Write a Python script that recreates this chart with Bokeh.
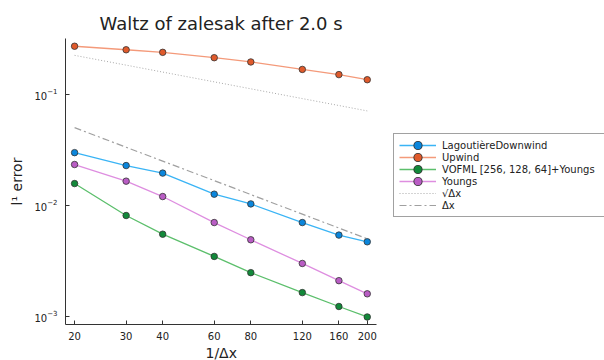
from bokeh.plotting import figure
from bokeh.models import FixedTicker, Legend, LegendItem, Range1d, PrintfTickFormatter, Title
from bokeh.embed import file_html
from bokeh.resources import INLINE

# ---- data ----
N = [20, 30, 40, 60, 80, 120, 160, 200]
lagoutiere = [0.0298, 0.0228, 0.0195, 0.0126, 0.0103, 0.0070, 0.0054, 0.0047]
upwind = [0.270, 0.251, 0.238, 0.213, 0.195, 0.167, 0.150, 0.135]
vofml = [0.0157, 0.0081, 0.0055, 0.00347, 0.00248, 0.00164, 0.00123, 0.00099]
youngs = [0.0233, 0.0165, 0.0120, 0.0070, 0.0049, 0.0030, 0.0021, 0.0016]
sqrt_dx = [0.2236, 0.1826, 0.1581, 0.1291, 0.1118, 0.0913, 0.0791, 0.0707]
dx = [0.05, 0.0333, 0.025, 0.0167, 0.0125, 0.00833, 0.00625, 0.005]

series_names = ["LagoutièreDownwind", "Upwind", "VOFML [256, 128, 64]+Youngs", "Youngs"]
x_ticks = [20, 30, 40, 60, 80, 120, 160, 200]
y_ticks = [0.001, 0.01, 0.1]
title_text = "Waltz of zalesak after 2.0 s"
x_label = "1/Δx"
y_label = "l¹ error"

FONT = "DejaVu Sans"

# axis extent (data units); the frame is widened to the right to host the legend
X_LO, X_HI = 18.62, 214.8
X_FRAME_HI = 1293.0

p = figure(width=604, height=360, x_axis_type="log", y_axis_type="log",
           x_range=Range1d(X_LO, X_FRAME_HI), y_range=Range1d(0.000847, 0.317),
           output_backend="svg", toolbar_location=None,
           min_border_left=65, min_border_right=0, min_border_top=38, min_border_bottom=0,
           title=title_text)
p.outline_line_color = None
p.background_fill_color = "white"
p.border_fill_color = "white"
p.xgrid.visible = False
p.ygrid.visible = False

p.title.align = "left"
p.title.offset = 34
p.title.text_font = FONT
p.title.text_font_size = "18px"
p.title.text_font_style = "normal"
p.title.text_color = "#222222"

for ax in (p.xaxis[0], p.yaxis[0]):
    ax.axis_line_color = "#333333"
    ax.axis_line_width = 1
    ax.major_tick_line_color = "#333333"
    ax.major_tick_in = 4
    ax.major_tick_out = 0
    ax.minor_tick_line_color = None
    ax.major_label_text_font = FONT
    ax.major_label_text_font_size = "10px"
    ax.major_label_text_color = "#222222"
    ax.axis_label_text_font = FONT
    ax.axis_label_text_font_size = "14px"
    ax.axis_label_text_font_style = "normal"
    ax.axis_label_text_color = "#222222"

p.xaxis.ticker = FixedTicker(ticks=x_ticks)
p.xaxis.formatter = PrintfTickFormatter(format="%d")
p.xaxis.bounds = (X_LO, X_HI)
p.xaxis.major_label_standoff = 7

xt = Title(text=x_label, align="left", offset=140, standoff=0,
           text_font=FONT, text_font_size="14px", text_font_style="normal",
           text_color="#222222")
p.add_layout(xt, "below")

p.yaxis.ticker = FixedTicker(ticks=y_ticks)
p.yaxis.axis_label = y_label
p.yaxis.major_label_standoff = 8
p.yaxis.axis_label_standoff = 6

line_cols = ["#3ab4f5", "#f49a7a", "#5cbf6c", "#de8ee0"]
mark_cols = ["#0a86dc", "#e05a2b", "#12893a", "#b95cc4"]
values = [lagoutiere, upwind, vofml, youngs]

items = []
# reference lines
r_sq = p.line(N, sqrt_dx, line_color="#a8a8a8", line_width=1, line_dash="1 2")
r_dx = p.line(N, dx, line_color="#a0a0a0", line_width=1.2, line_dash="7 3 2 3")
for name, vals, lc, mc in zip(series_names, values, line_cols, mark_cols):
    rl = p.line(N, vals, line_color=lc, line_width=1.3)
    rs = p.scatter(N, vals, size=6.5, fill_color=mc, line_color="#333333", line_width=0.8)
    # hidden copies used only for a larger legend marker (dark ring + coloured disk)
    lg_ring = p.scatter(N, vals, size=4.8, fill_color="#333333", line_color="#333333",
                        line_width=4.4, visible=False)
    lg_disk = p.scatter(N, vals, size=4.8, fill_color=mc, line_color=mc,
                        line_width=2.6, visible=False)
    items.append(LegendItem(label=name, renderers=[rl, lg_ring, lg_disk]))
items.append(LegendItem(label="√Δx", renderers=[r_sq]))
items.append(LegendItem(label="Δx", renderers=[r_dx]))

legend = Legend(items=items, location=(328, 107), padding=5, spacing=0,
                glyph_height=12, glyph_width=37, label_standoff=6, label_width=175,
                label_height=12,
                label_text_font=FONT, label_text_font_size="10px", label_text_color="#222222",
                border_line_color="#444444", border_line_width=1,
                background_fill_color="white", background_fill_alpha=1,
                margin=0)
p.add_layout(legend, "center")

open("out.html", "w").write(file_html(p, INLINE))
